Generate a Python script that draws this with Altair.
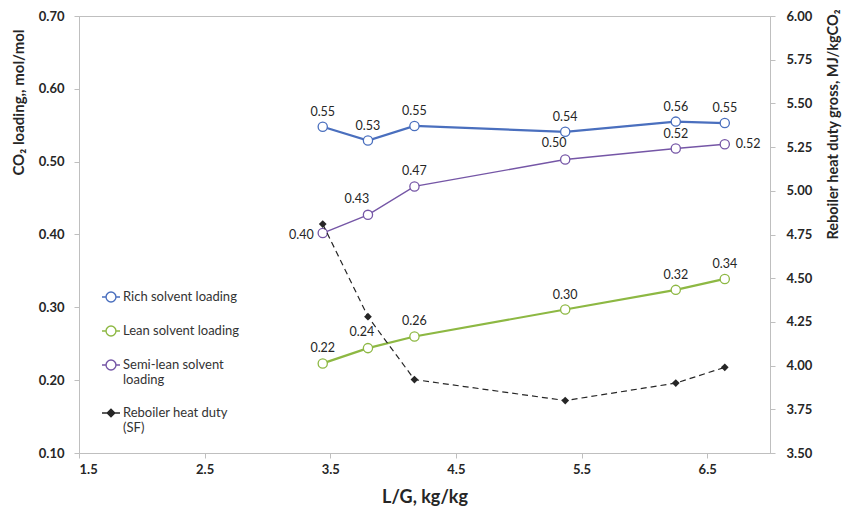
import altair as alt
import pandas as pd

# ---- data ----
lg = [3.44, 3.80, 4.17, 5.37, 6.25, 6.64]
rich = [0.548, 0.529, 0.549, 0.541, 0.555, 0.553]
lean = [0.223, 0.244, 0.260, 0.297, 0.324, 0.339]
semi = [0.402, 0.427, 0.466, 0.503, 0.518, 0.524]
reboiler = [4.81, 4.28, 3.92, 3.80, 3.90, 3.99]

rich_pos = ["above"] * 6
lean_pos = ["above", "aboveleft2", "above", "above", "above", "above"]
semi_pos = ["left", "aboveleft", "above", "aboveleft", "above", "right"]

names = ["Rich solvent loading", "Lean solvent loading",
         "Semi-lean solvent loading", "Reboiler heat duty (SF)"]
colors = ["#4A6FBE", "#8DB843", "#7556A6", "#262626"]
fills = ["white", "white", "white", "#262626"]
widths = [2.2, 2.2, 1.4, 1.2]

x_ticks = [1.5, 2.5, 3.5, 4.5, 5.5, 6.5]
yl_ticks = [0.1, 0.2, 0.3, 0.4, 0.5, 0.6, 0.7]
yr_ticks = [3.5, 3.75, 4.0, 4.25, 4.5, 4.75, 5.0, 5.25, 5.5, 5.75, 6.0]

FONT = "Lato"

rows = []
for name, vals, poss in [(names[0], rich, rich_pos), (names[1], lean, lean_pos),
                         (names[2], semi, semi_pos), (names[3], reboiler, ["none"] * 6)]:
    for xv, v, p in zip(lg, vals, poss):
        rows.append({"series": name, "lg": xv, "val": v, "pos": p})
df = pd.DataFrame(rows)
base = alt.Chart(df)

x_enc = alt.X("lg:Q",
              scale=alt.Scale(domain=[1.5, 7.0], nice=False, zero=False),
              axis=alt.Axis(values=x_ticks, format=".1f", title="L/G, kg/kg",
                            titleFontSize=18, titleY=44, titleBaseline="middle",
                            labelPadding=5))
yL = alt.Y("val:Q",
           scale=alt.Scale(domain=[0.1, 0.7], nice=False, zero=False),
           axis=alt.Axis(values=yl_ticks, format=".2f", orient="left",
                         title="CO₂ loading,, mol/mol", titleFontSize=15,
                         titleAngle=-90, titleX=-61, titleY=86,
                         titleAlign="center", titleBaseline="middle",
                         labelPadding=10))
yR = alt.Y("val:Q",
           scale=alt.Scale(domain=[3.5, 6.0], nice=False, zero=False),
           axis=alt.Axis(values=yr_ticks, format=".2f", orient="right",
                         title="Reboiler heat duty gross, MJ/kgCO₂", titleFontSize=14.5,
                         titleAngle=-90, titleX=63, titleY=108,
                         titleAlign="center", titleBaseline="middle",
                         labelPadding=11))

offsets = {
    "above": dict(dx=0, dy=-15, align="center"),
    "aboveleft": dict(dx=-11, dy=-16, align="center"),
    "aboveleft2": dict(dx=-6, dy=-16, align="center"),
    "left": dict(dx=-9, dy=2, align="right"),
    "right": dict(dx=11, dy=0, align="left"),
}

left_layers = []
for i, (name, poss) in enumerate(zip(names[:3], [rich_pos, lean_pos, semi_pos])):
    b = base.transform_filter(alt.datum.series == name)
    left_layers.append(b.mark_line(color=colors[i], strokeWidth=widths[i]).encode(x=x_enc, y=yL))
    left_layers.append(b.mark_point(shape="circle", size=85, filled=True, fill="white",
                                    stroke=colors[i], strokeWidth=1.3, opacity=1)
                       .encode(x=x_enc, y=yL))
    for p in sorted(set(poss)):
        o = offsets[p]
        left_layers.append(
            b.transform_filter(alt.datum.pos == p)
            .mark_text(dx=o["dx"], dy=o["dy"], align=o["align"], baseline="middle",
                       font=FONT, fontSize=12.5, color="#262626")
            .encode(x=x_enc, y=yL, text=alt.Text("val:Q", format=".2f")))

# legend carrier (no visible marks; legend built from the scales)
ring = ("M-1,0L-0.55,0M0.55,0L1,0M-0.55,0A0.55,0.55 0 1,1 0.55,0"
        "A0.55,0.55 0 1,1 -0.55,0Z")
diam = "M-1,0L1,0M0,-0.42L0.42,0L0,0.42L-0.42,0Z"
paths = [ring, ring, ring, diam]

leg = alt.Legend(title=None, orient="none", legendX=22, legendY=271,
                 direction="vertical", symbolSize=324, symbolStrokeWidth=1.4,
                 labelFont=FONT, labelFontSize=13, labelColor="#333333",
                 rowPadding=16, labelOffset=2, padding=0, labelLimit=300,
                 labelExpr=("datum.label == 'Semi-lean solvent loading' ? "
                            "['Semi-lean solvent', 'loading'] : "
                            "datum.label == 'Reboiler heat duty (SF)' ? "
                            "['Reboiler heat duty', '(SF)'] : datum.label"))

carrier = (alt.Chart(pd.DataFrame({"series": names}))
           .transform_filter("false")
           .mark_point(opacity=1)
           .encode(shape=alt.Shape("series:N", scale=alt.Scale(domain=names, range=paths), legend=leg),
                   stroke=alt.Stroke("series:N", scale=alt.Scale(domain=names, range=colors), legend=leg),
                   fill=alt.Fill("series:N", scale=alt.Scale(domain=names, range=fills), legend=leg)))
left_layers.append(carrier)

rb = base.transform_filter(alt.datum.series == names[3])
right_layers = [
    rb.mark_line(color=colors[3], strokeWidth=widths[3], strokeDash=[6, 4]).encode(x=x_enc, y=yR),
    rb.mark_point(shape="diamond", size=60, filled=True, color=colors[3], opacity=1).encode(x=x_enc, y=yR),
]

chart = (alt.layer(alt.layer(*left_layers), alt.layer(*right_layers))
         .resolve_scale(y="independent")
         .properties(width=691, height=437,
                     autosize=alt.AutoSizeParams(type="none"),
                     padding={"left": 79, "top": 16, "right": 73, "bottom": 58})
         .configure_view(stroke="#BFBFBF", strokeWidth=1)
         .configure_axis(grid=False, domainColor="#BFBFBF", tickColor="#BFBFBF",
                         tickSize=5, labelFont=FONT, labelFontSize=13,
                         labelFontWeight="bold", labelColor="#262626",
                         titleFont=FONT, titleFontWeight="bold", titleColor="#262626"))

chart.save("out.html", embed_options={"renderer": "svg", "actions": False})
